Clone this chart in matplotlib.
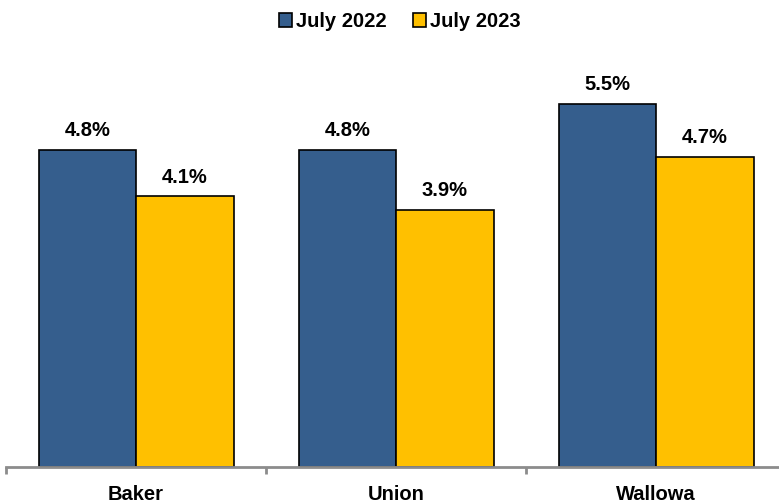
import matplotlib.pyplot as plt
import numpy as np

plt.rcParams['font.family'] = ['Liberation Sans', 'DejaVu Sans']

# values
counties = ['Baker', 'Union', 'Wallowa']
july_2022 = [4.8, 4.8, 5.5]
july_2023 = [4.1, 3.9, 4.7]

blue = '#355E8D'
gold = '#FFC000'

fig = plt.figure(figsize=(7.79, 5.03), dpi=100)
ax = fig.add_axes([6 / 779, 36 / 503, 780 / 779, 429 / 503])

x = np.arange(len(counties))
w = 0.375
b1 = ax.bar(x - w / 2, july_2022, w, color=blue, edgecolor='black', linewidth=1.2, label='July 2022')
b2 = ax.bar(x + w / 2, july_2023, w, color=gold, edgecolor='black', linewidth=1.2, label='July 2023')

for bars in (b1, b2):
    for rect in bars:
        h = rect.get_height()
        ax.annotate(f'{h:.1f}%', (rect.get_x() + rect.get_width() / 2, h),
                    xytext=(0, 7), textcoords='offset points',
                    ha='center', va='bottom', fontsize=14.5, fontweight='bold')

ax.set_xlim(-0.5, 2.5)
ax.set_ylim(0, 6.5)
ax.set_yticks([])
for s in ['top', 'right', 'left']:
    ax.spines[s].set_visible(False)
ax.spines['bottom'].set_color('#8C8C8C')
ax.spines['bottom'].set_linewidth(2)

ax.set_xticks([-0.5, 0.5, 1.5, 2.5])
ax.set_xticklabels([])
ax.set_xticks(x, minor=True)
ax.set_xticklabels(counties, minor=True, fontsize=14.5, fontweight='bold')
ax.tick_params(axis='x', which='major', direction='out', length=5, width=2, color='#8C8C8C')
ax.tick_params(axis='x', which='minor', length=0, pad=13)

fig.legend(loc='upper center', bbox_to_anchor=(0.513, 1.012), ncol=2, frameon=False,
           prop={'size': 14.5, 'weight': 'bold'}, handlelength=0.65, handleheight=0.65,
           handletextpad=0.2, columnspacing=1.3)

plt.savefig('out.png', dpi=100)
